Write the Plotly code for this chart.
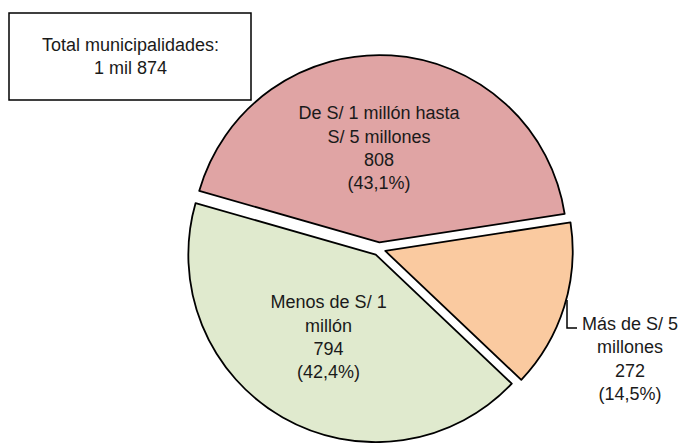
import plotly.graph_objects as go

categories = ["De S/ 1 millón hasta<br>S/ 5 millones", "Más de S/ 5<br>millones", "Menos de S/ 1<br>millón"]
values = [808, 272, 794]
percent_labels = ["43,1%", "14,5%", "42,4%"]
colors = ["#E0A4A4", "#FACAA0", "#E0EACE"]
total_label = "Total municipalidades:<br>1 mil 874"

FONT = "Liberation Sans, Arial, sans-serif"
FS = 18
W, H = 681, 443

texts = [f"{c}<br>{v}<br>({p})" for c, v, p in zip(categories, values, percent_labels)]
inside_texts = [t if i != 1 else "" for i, t in enumerate(texts)]

fig = go.Figure()
fig.add_trace(go.Pie(
    labels=categories,
    values=values,
    sort=False,
    direction="clockwise",
    rotation=-74,
    pull=[0.035, 0.035, 0.035],
    marker=dict(colors=colors, line=dict(color="#000000", width=1.8)),
    text=inside_texts,
    textinfo="text",
    textposition="inside",
    insidetextorientation="horizontal",
    insidetextfont=dict(family=FONT, size=FS, color="#1a1a1a"),
    showlegend=False,
    hoverinfo="label+value+percent",
    domain=dict(x=[0.2717, 0.8414], y=[0.0, 0.8758]),
))

# outside label for the small slice
fig.add_annotation(
    x=630 / W, y=1 - 359 / H, xref="paper", yref="paper",
    xanchor="center", yanchor="middle",
    text=texts[1], showarrow=False, align="center",
    font=dict(family=FONT, size=FS, color="#1a1a1a"),
)
fig.add_shape(type="path", xref="paper", yref="paper",
              path=f"M {567/W} {1-300/H} L {567/W} {1-328/H} L {577/W} {1-328/H}",
              line=dict(color="#000000", width=1.5))

# total box
fig.add_annotation(
    x=130 / W, y=1 - 56.5 / H, xref="paper", yref="paper",
    xanchor="center", yanchor="middle",
    text=total_label, showarrow=False, align="center",
    font=dict(family=FONT, size=FS, color="#1a1a1a"),
)
fig.add_shape(type="rect", xref="paper", yref="paper",
              x0=9 / W, x1=251 / W, y0=1 - 100 / H, y1=1 - 13 / H,
              line=dict(color="#000000", width=1.5), fillcolor="rgba(0,0,0,0)")

fig.update_layout(
    width=W, height=H,
    margin=dict(l=0, r=0, t=0, b=0),
    paper_bgcolor="white", plot_bgcolor="white",
)
fig.write_html("out.html", config={"displayModeBar": False},
               post_script="document.body.style.margin='0';")
